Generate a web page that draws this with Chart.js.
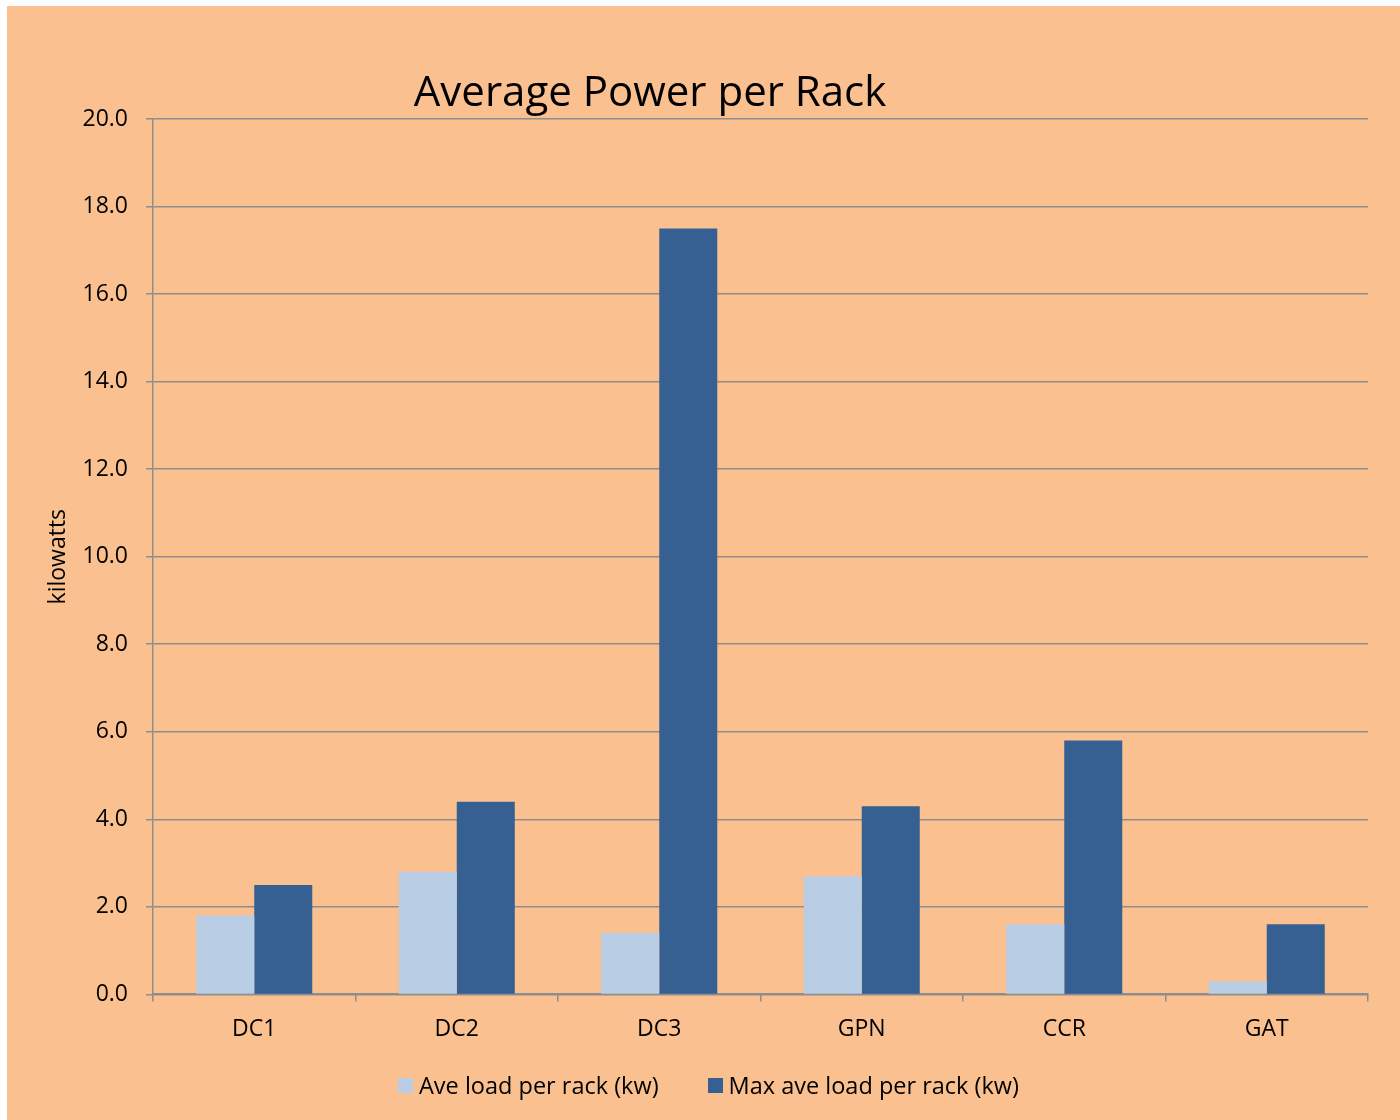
<!DOCTYPE html>
<html>
<head>
<meta charset="utf-8">
<title>Average Power per Rack</title>
<script src="https://cdn.jsdelivr.net/npm/chart.js@4.4.1/dist/chart.umd.min.js"></script>
<style>
  html, body { margin: 0; padding: 0; background: #ffffff; }
  #wrap { position: absolute; left: 7px; top: 6px; width: 1393px; height: 1114px; background: #FAC090; }
  #legend {
    position: absolute; left: 398px; top: 1070px; height: 30px;
    display: flex; align-items: center; gap: 49px;
    font-family: "Open Sans", "Noto Sans", sans-serif; font-size: 23.5px; line-height: 30px; color: #000;
  }
  #legend .item { display: flex; align-items: center; gap: 6px; white-space: nowrap; }
  #legend .box { width: 15px; height: 15px; display: inline-block; }
</style>
</head>
<body>
<div id="wrap"><canvas id="chart" width="1393" height="1114"></canvas></div>
<div id="legend"></div>
<script>
const sites = ['DC1', 'DC2', 'DC3', 'GPN', 'CCR', 'GAT'];
const aveLoad = [1.8, 2.8, 1.4, 2.7, 1.6, 0.3];
const maxAveLoad = [2.5, 4.4, 17.5, 4.3, 5.8, 1.6];
const yTicks = [0, 2, 4, 6, 8, 10, 12, 14, 16, 18, 20];

const gridGray = '#8d8d8d';
const fontFamily = '"Open Sans", "Noto Sans", sans-serif';

// titel digambar sendiri supaya posisinya sama dengan gambar aslinya
const titlePlugin = {
  id: 'manualTitle',
  afterDraw(chart) {
    const ctx = chart.ctx;
    ctx.save();
    ctx.font = `42px ${fontFamily}`;
    ctx.fillStyle = '#000000';
    ctx.textAlign = 'center';
    ctx.textBaseline = 'alphabetic';
    ctx.fillText('Average Power per Rack', 643, 100);
    ctx.restore();
  }
};

const ctx = document.getElementById('chart').getContext('2d');
const chart = new Chart(ctx, {
  type: 'bar',
  data: {
    labels: sites,
    datasets: [
      { label: 'Ave load per rack (kw)', data: aveLoad, backgroundColor: '#B9CDE5' },
      { label: 'Max ave load per rack (kw)', data: maxAveLoad, backgroundColor: '#376092' }
    ]
  },
  options: {
    responsive: false,
    devicePixelRatio: 1,
    animation: false,
    layout: { padding: { left: 0, right: 32, top: 113, bottom: 63 } },
    datasets: { bar: { categoryPercentage: 0.573, barPercentage: 1.0 } },
    plugins: {
      title: { display: false },
      tooltip: { enabled: false },
      legend: { display: false }
    },
    scales: {
      x: {
        offset: true,
        grid: { display: true, drawOnChartArea: false, drawTicks: true, tickLength: 7, color: gridGray, lineWidth: 1.5, offset: true },
        border: { display: true, color: gridGray, width: 2 },
        ticks: { color: '#000000', font: { family: fontFamily, size: 23 }, padding: 14 }
      },
      y: {
        min: 0,
        max: 20,
        afterFit(scale) { scale.width = 146; },
        afterBuildTicks(scale) { scale.ticks = yTicks.map(v => ({ value: v })); },
        grid: { color: gridGray, lineWidth: 1.5, tickLength: 7 },
        border: { display: true, color: gridGray, width: 1.5 },
        ticks: {
          color: '#000000',
          font: { family: fontFamily, size: 23 },
          padding: 18,
          callback: v => Number(v).toFixed(1)
        },
        title: {
          display: true,
          text: 'kilowatts',
          color: '#000000',
          font: { family: fontFamily, size: 23 },
          padding: { top: 38, bottom: 0 }
        }
      }
    }
  },
  plugins: [titlePlugin]
});

// legenda dibuat sebagai HTML dari dataset chart
const legendEl = document.getElementById('legend');
legendEl.innerHTML = chart.data.datasets.map(ds => `
  <div class="item"><span class="box" style="background:${ds.backgroundColor}"></span><span>${ds.label}</span></div>
`).join('');
</script>
</body>
</html>
